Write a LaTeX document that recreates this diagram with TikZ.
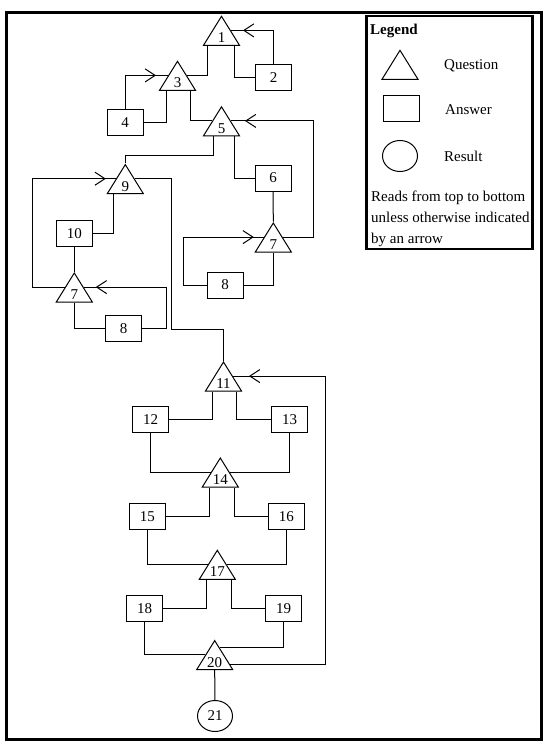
\documentclass[tikz,border=0pt]{standalone}
\usepackage{fontspec}
\setmainfont{Liberation Serif}
\usetikzlibrary{shapes.geometric,arrows.meta,decorations.markings,calc}
\begin{document}
\begin{tikzpicture}[x=1pt,y=-1pt,
  every node/.style={font=\fontsize{15}{18}\selectfont},
  tri/.style={isosceles triangle, shape border rotate=90, isosceles triangle stretches,
    minimum width=36pt, minimum height=29pt, inner sep=0pt, draw, line width=1pt, anchor=apex},
  num/.style={anchor=base, inner sep=0pt},
  box/.style={rectangle, draw, line width=1pt, minimum width=36pt, minimum height=26pt, inner sep=0pt},
  res/.style={ellipse, draw, line width=1pt, minimum width=35pt, minimum height=31pt, inner sep=0pt},
  conn/.style={draw, line width=1pt},
  midarrow/.style={postaction={decorate, decoration={markings,
    mark=at position -#1 with {\arrow{Straight Barb[length=10pt,width=13pt]}}}}},
  midarrow/.default=12pt,
  lbl/.style={anchor=base west, inner sep=0pt}
]
\useasboundingbox (0,0) rectangle (549,749);
% frames
\draw[line width=3pt] (6.5,12.5) rectangle (541.5,739.5);
\draw[line width=2.5pt] (366.5,16) rectangle (532.5,249);

% legend
\node[lbl, font=\fontsize{15}{18}\selectfont\bfseries] (lg) at (370,35) {Legend};
\node[tri] (lt) at (400,49) {};
\node[box] (lb) at (401,108.5) {};
\node[res] (le) at (400,156) {};
\node[lbl] (lq) at (444,70) {Question};
\node[lbl] (la) at (445,115) {Answer};
\node[lbl] (lr) at (444,161) {Result};
\node[lbl] (lx1) at (371,201) {Reads from top to bottom};
\node[lbl] (lx2) at (371,222) {unless otherwise indicated};
\node[lbl] (lx3) at (371,243) {by an arrow};

% triangles (questions)
\node[tri] (t1) at (221.5,15) {};
\node[tri] (t3) at (177.5,60) {};
\node[tri] (t5) at (221.5,105.5) {};
\node[tri] (t9) at (125.3,163.3) {};
\node[tri] (t7r) at (273.3,221.7) {};
\node[tri] (t7l) at (74.3,271.7) {};
\node[tri] (t11) at (223.5,360.7) {};
\node[tri] (t14) at (220.3,456.7) {};
\node[tri] (t17) at (217.3,549) {};
\node[tri] (t20) at (214.7,639.3) {};
\node[num] (n1) at ($(t1.lower side)+(0,-3)$) {1};
\node[num] (n3) at ($(t3.lower side)+(0,-3)$) {3};
\node[num] (n5) at ($(t5.lower side)+(0,-3)$) {5};
\node[num] (n9) at ($(t9.lower side)+(0,-3)$) {9};
\node[num] (n7r) at ($(t7r.lower side)+(0,-3)$) {7};
\node[num] (n7l) at ($(t7l.lower side)+(0,-3)$) {7};
\node[num] (n11) at ($(t11.lower side)+(0,-3)$) {11};
\node[num] (n14) at ($(t14.lower side)+(0,-3)$) {14};
\node[num] (n17) at ($(t17.lower side)+(0,-3)$) {17};
\node[num] (n20) at ($(t20.lower side)+(0,-3)$) {20};

% boxes (answers)
\node[box] (b2) at (273.5,77.5) {2};
\node[box] (b4) at (125,122.5) {4};
\node[box] (b6) at (273,178) {6};
\node[box] (b8r) at (225,285) {8};
\node[box] (b10) at (74.3,233.7) {10};
\node[box] (b8l) at (123.5,328.5) {8};
\node[box] (b12) at (150.5,419.2) {12};
\node[box] (b13) at (289.7,419.2) {13};
\node[box] (b15) at (147.3,516.3) {15};
\node[box] (b16) at (286.3,516.3) {16};
\node[box] (b18) at (144.5,608.7) {18};
\node[box] (b19) at (283.5,608.7) {19};

% result
\node[res] (e21) at (215,716) {21};

% connectors
\draw[conn] ($(t1.left corner)+(5,0)$) |- (t3.right side);
\draw[conn] ($(t1.right corner)+(-6,0)$) |- (b2);
\draw[conn,midarrow] (b2.north) |- (t1.right side);
\draw[conn,midarrow] (b4.north) |- (t3.left side);
\draw[conn] (b4) -| ($(t3.left corner)+(8,0)$);
\draw[conn] ($(t3.right corner)+(-6,0)$) |- (t5.left side);
\draw[conn] ($(t5.left corner)+(11,0)$) -- ++(0,19) -| (t9.apex);
\draw[conn] ($(t5.right corner)+(-6,0)$) |- (b6);
\draw[conn] (b6) -- (t7r.apex);
\draw[conn,midarrow=14pt] (t7r.right side) -- ++(31,0) |- (t5.right side);
\draw[conn,midarrow=10pt] (b8r.west) -- ++(-23,0) |- (t7r.left side);
\draw[conn] (b8r) -| (t7r.lower side);
\draw[conn] (t9.right side) -- ++(37,0) |- ($(t11.apex)+(0,-31)$) -- (t11.apex);
\draw[conn] (b10) -| ($(t9.left corner)+(7,0)$);
\draw[conn] (b10) -- (t7l.apex);
\draw[conn,midarrow=10pt] (t7l.left side) -- ++(-32,0) |- (t9.left side);
\draw[conn,midarrow] (b8l.east) -- ++(24,0) |- (t7l.right side);
\draw[conn] (t7l.lower side) |- (b8l);

\draw[conn] ($(t11.left corner)+(8,0)$) |- (b12);
\draw[conn] ($(t11.right corner)+(-6,0)$) |- (b13);
\draw[conn] (b12) |- (t14.left side);
\draw[conn] (b13) |- (t14.right side);
\draw[conn] ($(t14.left corner)+(8,0)$) |- (b15);
\draw[conn] ($(t14.right corner)+(-5,0)$) |- (b16);
\draw[conn] (b15) |- (t17.left side);
\draw[conn] (b16) |- (t17.right side);
\draw[conn] ($(t17.left corner)+(8,0)$) |- (b18);
\draw[conn] ($(t17.right corner)+(-5,0)$) |- (b19);
\draw[conn] (b18) |- (t20.left side);
\draw[conn] (b19) |- ($(t20.apex)!0.28!(t20.right corner)$);
\draw[conn,midarrow=16pt] ($(t20.apex)!0.83!(t20.right corner)$) -- ++(95,0) |- (t11.right side);
\draw[conn] (t20.lower side) -- (e21);
\end{tikzpicture}
\end{document}
